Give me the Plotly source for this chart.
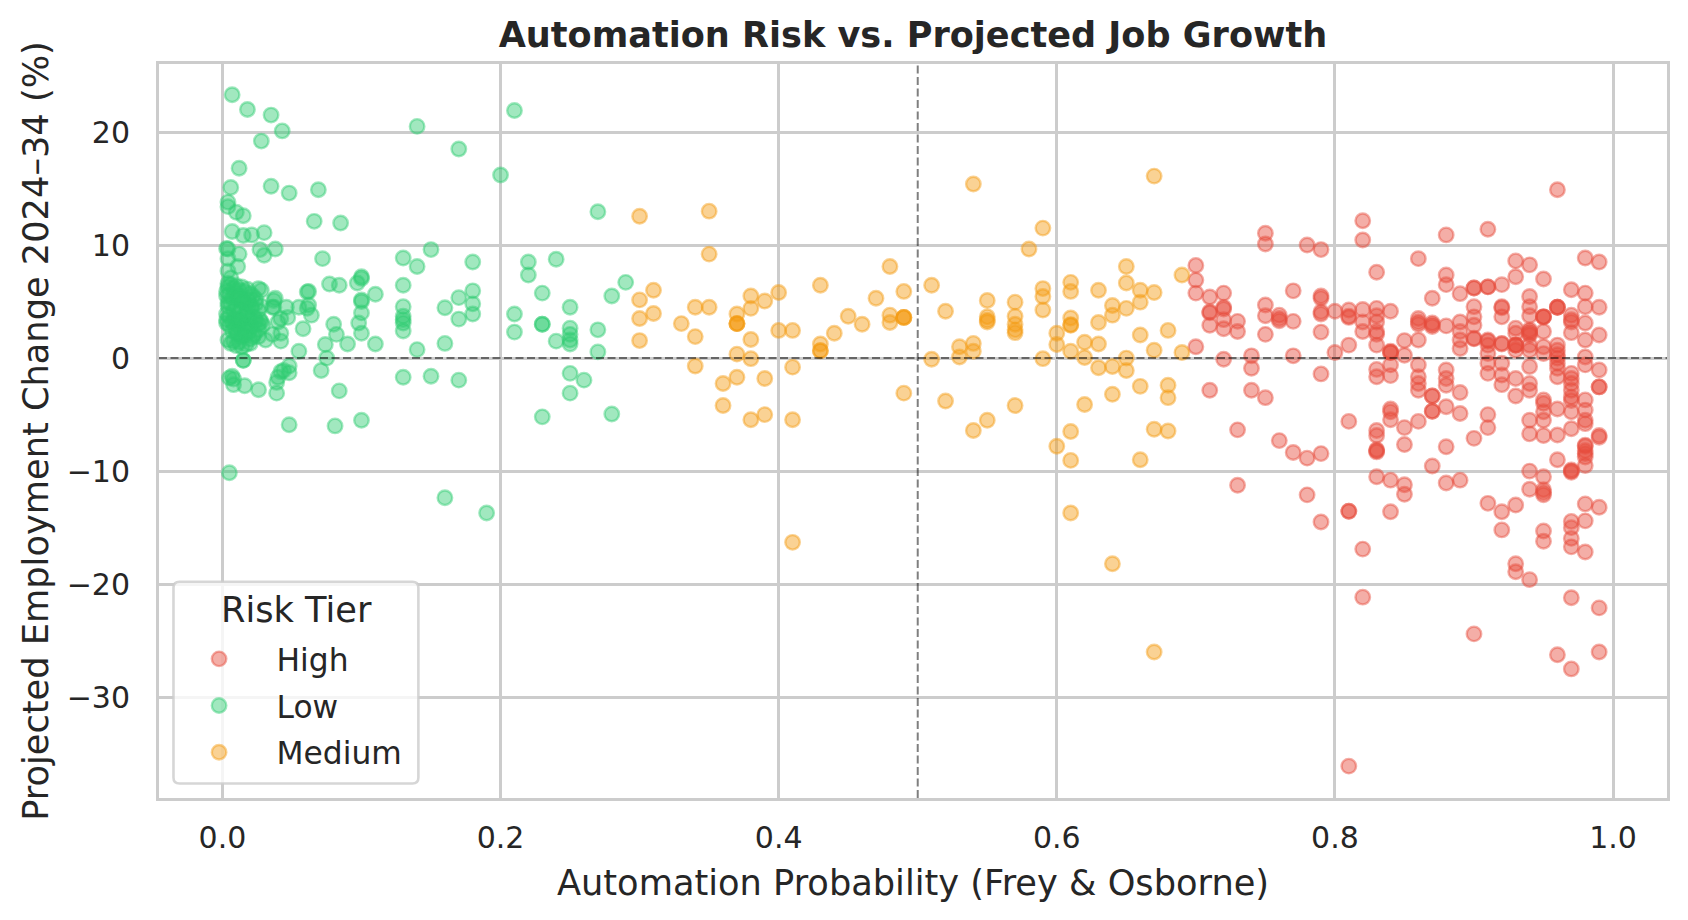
import plotly.graph_objects as go

# High tier: values read column by column (the probabilities are two-decimal values)
high_probability_columns = [0.70, 0.71, 0.72, 0.73, 0.74, 0.75, 0.76, 0.77, 0.78, 0.79,
                            0.80, 0.81, 0.82, 0.83, 0.84, 0.85, 0.86, 0.87, 0.88, 0.89,
                            0.90, 0.91, 0.92, 0.93, 0.94, 0.95, 0.96, 0.97, 0.98, 0.99]
high_change_columns = [
    [8.2, 6.9, 5.75, 1.0],
    [5.4, 4.1, 4.0, 2.9, -2.85],
    [5.75, 4.5, 4.35, 3.4, 2.6, -0.1],
    [3.25, 2.35, -6.35, -11.25],
    [0.2, -0.9, -2.85],
    [11.05, 10.1, 4.7, 3.75, 2.1, -3.5],
    [3.8, 3.5, 3.3, -7.3],
    [5.95, 3.25, 0.2, -8.35],
    [10.0, -8.85, -12.1],
    [9.6, 5.5, 5.3, 4.1, 3.9, 2.3, -1.4, -8.45, -14.5],
    [4.15, 0.5],
    [4.25, 3.7, 3.6, 1.15, -5.6, -13.55, -13.55, -36.1],
    [12.15, 10.45, 4.3, 3.2, 2.35, -16.9, -21.15],
    [7.6, 4.4, 3.75, 3.2, 2.35, 2.1, 1.15, -1.0, -1.65, -6.4, -6.85, -8.1, -8.2, -8.3, -10.5],
    [4.15, 0.5, 0.5, 0.6, -0.6, -1.55, -4.5, -4.75, -5.45, -10.8, -13.6],
    [1.55, 0.25, -6.15, -7.65, -11.2, -12.05],
    [8.8, 3.5, 3.2, 3.0, 1.6, -0.6, -1.65, -2.25, -2.85, -5.6],
    [5.3, 3.1, 2.95, 2.8, -3.35, -3.35, -4.7, -4.7, -9.55],
    [10.9, 7.35, 6.5, 2.85, -1.05, -1.8, -2.4, -4.3, -7.85, -11.05],
    [5.7, 3.2, 2.35, 1.6, 0.85, -3.05, -4.9, -10.8],
    [6.2, 6.2, 4.55, 3.65, 2.9, 1.75, 1.7, -7.1, -24.4],
    [11.4, 6.3, 6.3, 1.6, 1.5, 1.15, 0.4, -0.45, -1.35, -5.0, -6.15, -12.85],
    [6.5, 4.55, 4.45, 3.65, 1.3, 1.25, -0.45, -1.5, -2.35, -13.6, -15.2],
    [8.6, 7.2, 2.65, 2.2, 1.15, 1.15, 1.15, 0.7, -1.8, -3.35, -13.0, -18.2, -18.9],
    [8.25, 5.45, 4.55, 3.75, 2.5, 2.2, 2.05, 2.35, 1.15, 0.7, -0.75, -2.25, -2.85, -5.5, -6.7, -10.0, -11.6, -19.6],
    [7.0, 3.65, 3.65, 3.65, 2.35, 1.0, 0.4, -3.7, -4.0, -4.75, -5.5, -6.85, -10.5, -11.65, -11.9, -12.1, -15.3, -16.2],
    [14.9, 4.5, 4.5, 4.5, 1.15, 0.7, 0.3, 0.0, -0.45, -0.9, -1.65, -4.5, -6.8, -9.0, -26.25],
    [6.05, 3.8, 3.4, 3.2, 2.25, -1.35, -1.8, -2.25, -2.85, -3.45, -3.75, -4.75, -6.25, -9.9, -10.0, -10.1,
     -14.45, -15.0, -15.95, -16.7, -21.2, -27.5],
    [8.85, 5.75, 4.55, 3.1, 1.6, 0.1, -0.6, -3.7, -4.6, -5.5, -5.8, -7.7, -7.8, -8.2, -8.45, -8.75, -9.5,
     -12.9, -14.4, -17.15],
    [8.5, 4.5, 2.05, -1.05, -2.55, -2.55, -6.85, -7.0, -13.2, -22.1, -26.0],
]

# Medium tier
medium_probability_columns = [0.30, 0.31, 0.33, 0.34, 0.35, 0.36, 0.37, 0.38, 0.39, 0.40,
                              0.41, 0.43, 0.44, 0.45, 0.46, 0.47, 0.48, 0.49, 0.51, 0.52,
                              0.53, 0.54, 0.55, 0.57, 0.58, 0.59, 0.60, 0.61, 0.62, 0.63,
                              0.64, 0.65, 0.66, 0.67, 0.68, 0.69]
medium_change_columns = [
    [12.55, 5.15, 3.5, 1.55],
    [6.0, 3.95],
    [3.05],
    [4.5, 1.9, -0.7],
    [13.0, 9.2, 4.5],
    [-2.25, -4.2],
    [3.9, 3.05, 3.05, 3.05, 0.35, -1.7],
    [5.5, 4.4, 1.65, -0.05, -5.45],
    [5.05, -1.8, -5.0],
    [5.8, 2.45],
    [2.45, -0.8, -5.45, -16.3],
    [6.45, 1.25, 0.65, 0.65],
    [2.2],
    [3.7],
    [3.0],
    [5.3],
    [8.1, 3.8, 3.15],
    [5.9, 3.6, 3.6, 3.6, -3.1],
    [6.45, -0.1],
    [4.15, -3.8],
    [1.0, 0.1],
    [15.4, 1.3, 0.6, -6.4],
    [5.1, 3.65, 3.35, 3.2, -5.5],
    [4.95, 3.7, 3.0, 2.5, 2.25, -4.2],
    [9.65],
    [11.5, 6.15, 5.45, 4.25, -0.05],
    [2.2, 1.2, -7.8],
    [6.7, 5.9, 3.55, 2.9, 2.95, 0.6, -6.5, -9.05, -13.7],
    [1.4, 0.05, -4.1],
    [6.0, 3.15, 1.25, -0.85],
    [4.65, 3.8, -0.75, -3.2, -18.2],
    [8.1, 6.65, 4.4, 0.0, -1.1],
    [6.0, 4.95, 2.05, -2.5, -9.0],
    [16.1, 5.8, 0.7, -6.3, -26.0],
    [2.45, -2.4, -3.5, -6.45],
    [7.35, 0.5],
]

# Low tier: individually read points, denser near probability 0
low_probability = [
    0.007, 0.018, 0.035, 0.043, 0.028, 0.14, 0.17, 0.21, 0.20, 0.012, 0.006, 0.035, 0.048, 0.069, 0.004, 0.004,
    0.010, 0.015, 0.066, 0.085, 0.007, 0.015, 0.021, 0.030, 0.003, 0.004, 0.012, 0.027, 0.030, 0.038, 0.004,
    0.072, 0.13, 0.15, 0.14, 0.18, 0.22, 0.22, 0.24, 0.011, 0.004, 0.006, 0.077, 0.084, 0.10, 0.10, 0.097,
    0.13, 0.11, 0.061, 0.23, 0.17, 0.18, 0.18, 0.18, 0.16, 0.17, 0.13, 0.13, 0.13, 0.13, 0.13, 0.10, 0.10,
    0.10, 0.098, 0.10, 0.11, 0.14, 0.16, 0.09, 0.08, 0.082, 0.074, 0.055, 0.075, 0.21, 0.21, 0.23, 0.23,
    0.015, 0.015, 0.005, 0.007, 0.008, 0.008, 0.016, 0.026, 0.039, 0.039, 0.04, 0.042, 0.048, 0.048, 0.044,
    0.071, 0.084, 0.13, 0.15, 0.17, 0.25, 0.26, 0.25, 0.23, 0.28, 0.27, 0.24, 0.25, 0.25, 0.048, 0.081, 0.10,
    0.005, 0.16, 0.19, 0.27, 0.29, 0.28, 0.25, 0.25, 0.25, 0.27,
    0.037, 0.036, 0.046, 0.055, 0.061, 0.064, 0.058, 0.062, 0.062, 0.042, 0.047, 0.040, 0.028, 0.026, 0.031,
    0.036, 0.042, 0.042, 0.026, 0.028, 0.038, 0.037, 0.027,
    0.004, 0.004, 0.006, 0.008, 0.010, 0.012, 0.014, 0.016, 0.018, 0.020, 0.022, 0.024,
    0.003, 0.003, 0.005, 0.007, 0.009, 0.011, 0.013, 0.015, 0.017, 0.019, 0.021,
    0.004, 0.004, 0.006, 0.008, 0.010, 0.012, 0.014, 0.016, 0.018, 0.020, 0.023,
    0.003, 0.003, 0.005, 0.007, 0.009, 0.011, 0.013, 0.015, 0.018,
    0.003, 0.005, 0.007, 0.009, 0.011, 0.013, 0.016, 0.019, 0.022,
    0.004, 0.006, 0.008, 0.010, 0.012, 0.014, 0.017, 0.020,
    0.012, 0.015, 0.018, 0.021, 0.024, 0.026, 0.028, 0.012, 0.015, 0.018, 0.021, 0.024,
    0.026, 0.010, 0.014, 0.017, 0.020, 0.023, 0.026, 0.029,
]
low_change = [
    23.3, 22.0, 21.5, 20.1, 19.2, 20.5, 18.5, 21.9, 16.2, 16.8, 15.1, 15.2, 14.6, 14.9, 13.8, 13.4,
    12.9, 12.6, 12.1, 11.95, 11.2, 10.85, 10.9, 11.1, 9.7, 9.65, 9.2, 9.6, 9.1, 9.65, 8.8,
    8.8, 8.85, 9.6, 8.1, 8.5, 8.5, 7.35, 8.75, 8.1, 7.7, 7.1, 6.55, 6.45, 7.2, 7.05, 6.65,
    6.45, 5.65, 5.85, 5.75, 5.35, 5.95, 4.8, 3.9, 4.45, 3.45, 4.55, 3.7, 3.4, 3.1, 2.4, 5.15, 5.0,
    4.0, 3.1, 2.2, 1.25, 0.75, 1.3, 1.25, 3.0, 2.1, 1.2, 0.6, 0.0, 3.9, 2.3, 3.0, 3.0,
    -0.2, -0.2, -1.75, -1.6, -1.85, -2.35, -2.45, -2.8, -3.1, -2.15, -1.7, -1.2, -0.7, -1.3, -1.1,
    -1.1, -2.9, -1.7, -1.6, -1.95, -1.35, -1.95, -3.1, -5.2, -4.95, 0.55, 1.5, 1.25, 1.6, -5.9, -6.0, -5.5,
    -10.15, -12.35, -13.7, 12.95, 6.7, 5.5, 4.5, 2.65, 2.1, 2.5,
    5.1, 4.5, 4.5, 4.5, 4.4, 3.8, 2.6, 4.7, 5.9, 3.5, 3.6, 3.2, 3.2, 1.9, 1.6,
    2.1, 1.5, 2.2, 6.15, 6.0, 5.3, 4.5, 3.4,
    6.6, 6.3, 6.5, 6.2, 6.4, 6.0, 6.3, 5.9, 6.1, 5.7, 5.5, 5.2,
    5.9, 5.5, 5.6, 5.3, 5.8, 5.2, 5.4, 5.0, 4.8, 5.1, 4.6,
    4.9, 4.6, 4.8, 4.2, 4.5, 4.0, 4.3, 3.8, 4.1, 3.5, 3.6,
    3.9, 3.4, 3.7, 3.2, 3.5, 2.9, 3.3, 2.7, 3.0,
    3.1, 2.9, 2.4, 2.7, 2.2, 2.5, 2.0, 2.3, 1.9,
    1.6, 1.3, 1.5, 1.1, 1.4, 1.0, 1.2, 1.3,
    5.4, 4.9, 5.2, 4.4, 4.8, 4.2, 4.6, 3.4, 3.0, 3.6, 2.8, 3.3,
    3.0, 2.2, 1.9, 2.4, 1.7, 2.1, 2.5, 2.9,
]

tier_names = ["High", "Low", "Medium"]
tier_colors = ["231,76,60", "46,204,113", "243,156,18"]
x_ticks = [0.0, 0.2, 0.4, 0.6, 0.8, 1.0]
y_ticks = [-30, -20, -10, 0, 10, 20]
midpoint_probability = 0.5
zero_change = 0

high_probability = [p for p, col in zip(high_probability_columns, high_change_columns) for _ in col]
high_change = [v for col in high_change_columns for v in col]
medium_probability = [p for p, col in zip(medium_probability_columns, medium_change_columns) for _ in col]
medium_change = [v for col in medium_change_columns for v in col]

series_x = [high_probability, low_probability, medium_probability]
series_y = [high_change, low_change, medium_change]

FONT = "DejaVu Sans"
INK = "#262626"
GRID = "#cccccc"
CLEAR = "rgba(0,0,0,0)"

fig = go.Figure()
for name, rgb, xs, ys in zip(tier_names, tier_colors, series_x, series_y):
    fig.add_trace(go.Scatter(
        x=xs, y=ys, mode="markers", name=name, legendgroup=name,
        marker=dict(size=14.5, color=f"rgba({rgb},0.45)", line=dict(width=2.4, color=f"rgba({rgb},0.45)")),
    ))

ref_line = dict(color="rgba(0,0,0,0.5)", width=2, dash="8px,3.5px")
fig.add_hline(y=zero_change, line=ref_line)
fig.add_vline(x=midpoint_probability, line=ref_line)

# Rounded legend frame, in paper fractions of the plot area
bx0, bx1, by0, by1, rx, ry = 0.0096, 0.1720, 0.0197, 0.2946, 0.0040, 0.0082
legend_frame = (f"M {bx0+rx} {by0} L {bx1-rx} {by0} Q {bx1} {by0} {bx1} {by0+ry} "
                f"L {bx1} {by1-ry} Q {bx1} {by1} {bx1-rx} {by1} "
                f"L {bx0+rx} {by1} Q {bx0} {by1} {bx0} {by1-ry} "
                f"L {bx0} {by0+ry} Q {bx0} {by0} {bx0+rx} {by0} Z")
fig.add_shape(type="path", xref="paper", yref="paper", path=legend_frame, layer="above",
              fillcolor="rgba(255,255,255,0.8)", line=dict(color="rgba(204,204,204,0.8)", width=2.6))
fig.add_annotation(text="Risk Tier", xref="paper", yref="paper", x=0.0911, y=0.2565,
                   xanchor="center", yanchor="middle", showarrow=False,
                   font=dict(size=35.2, color=INK, family=FONT))

fig.update_layout(
    width=1688, height=920,
    margin=dict(l=150.5, r=28.5, t=55.5, b=129.5, pad=0, autoexpand=False),
    paper_bgcolor="white", plot_bgcolor="white",
    font=dict(family=FONT, size=30, color=INK),
    title=dict(text="<b>Automation Risk vs. Projected Job Growth</b>", font=dict(size=35.1, color=INK),
               x=0.5361, xanchor="center", y=0.9712, yanchor="middle"),
    xaxis=dict(title=dict(text="Automation Probability (Frey &amp; Osborne)", font=dict(size=35.2), standoff=16),
               range=[-0.0456, 1.0388], tickvals=x_ticks, ticktext=[f"{t:.1f}" for t in x_ticks],
               showgrid=True, gridcolor=GRID, gridwidth=2.8, zeroline=False,
               showline=True, linecolor=GRID, linewidth=3, mirror=True,
               ticks="outside", ticklen=11.4, tickcolor=CLEAR, automargin=False),
    yaxis=dict(title=dict(text="Projected Employment Change 2024–34 (%)", font=dict(size=35.2), standoff=8),
               range=[-38.92, 26.02], tickvals=y_ticks,
               showgrid=True, gridcolor=GRID, gridwidth=2.8, zeroline=False,
               showline=True, linecolor=GRID, linewidth=3, mirror=True,
               ticks="outside", ticklen=20, tickcolor=CLEAR, automargin=False),
    legend=dict(x=0.0017, xanchor="left", y=0.0245, yanchor="bottom",
                bgcolor=CLEAR, borderwidth=0,
                itemwidth=105, tracegroupgap=3, traceorder="grouped", font=dict(size=31.3)),
)

fig.write_html("out.html")
